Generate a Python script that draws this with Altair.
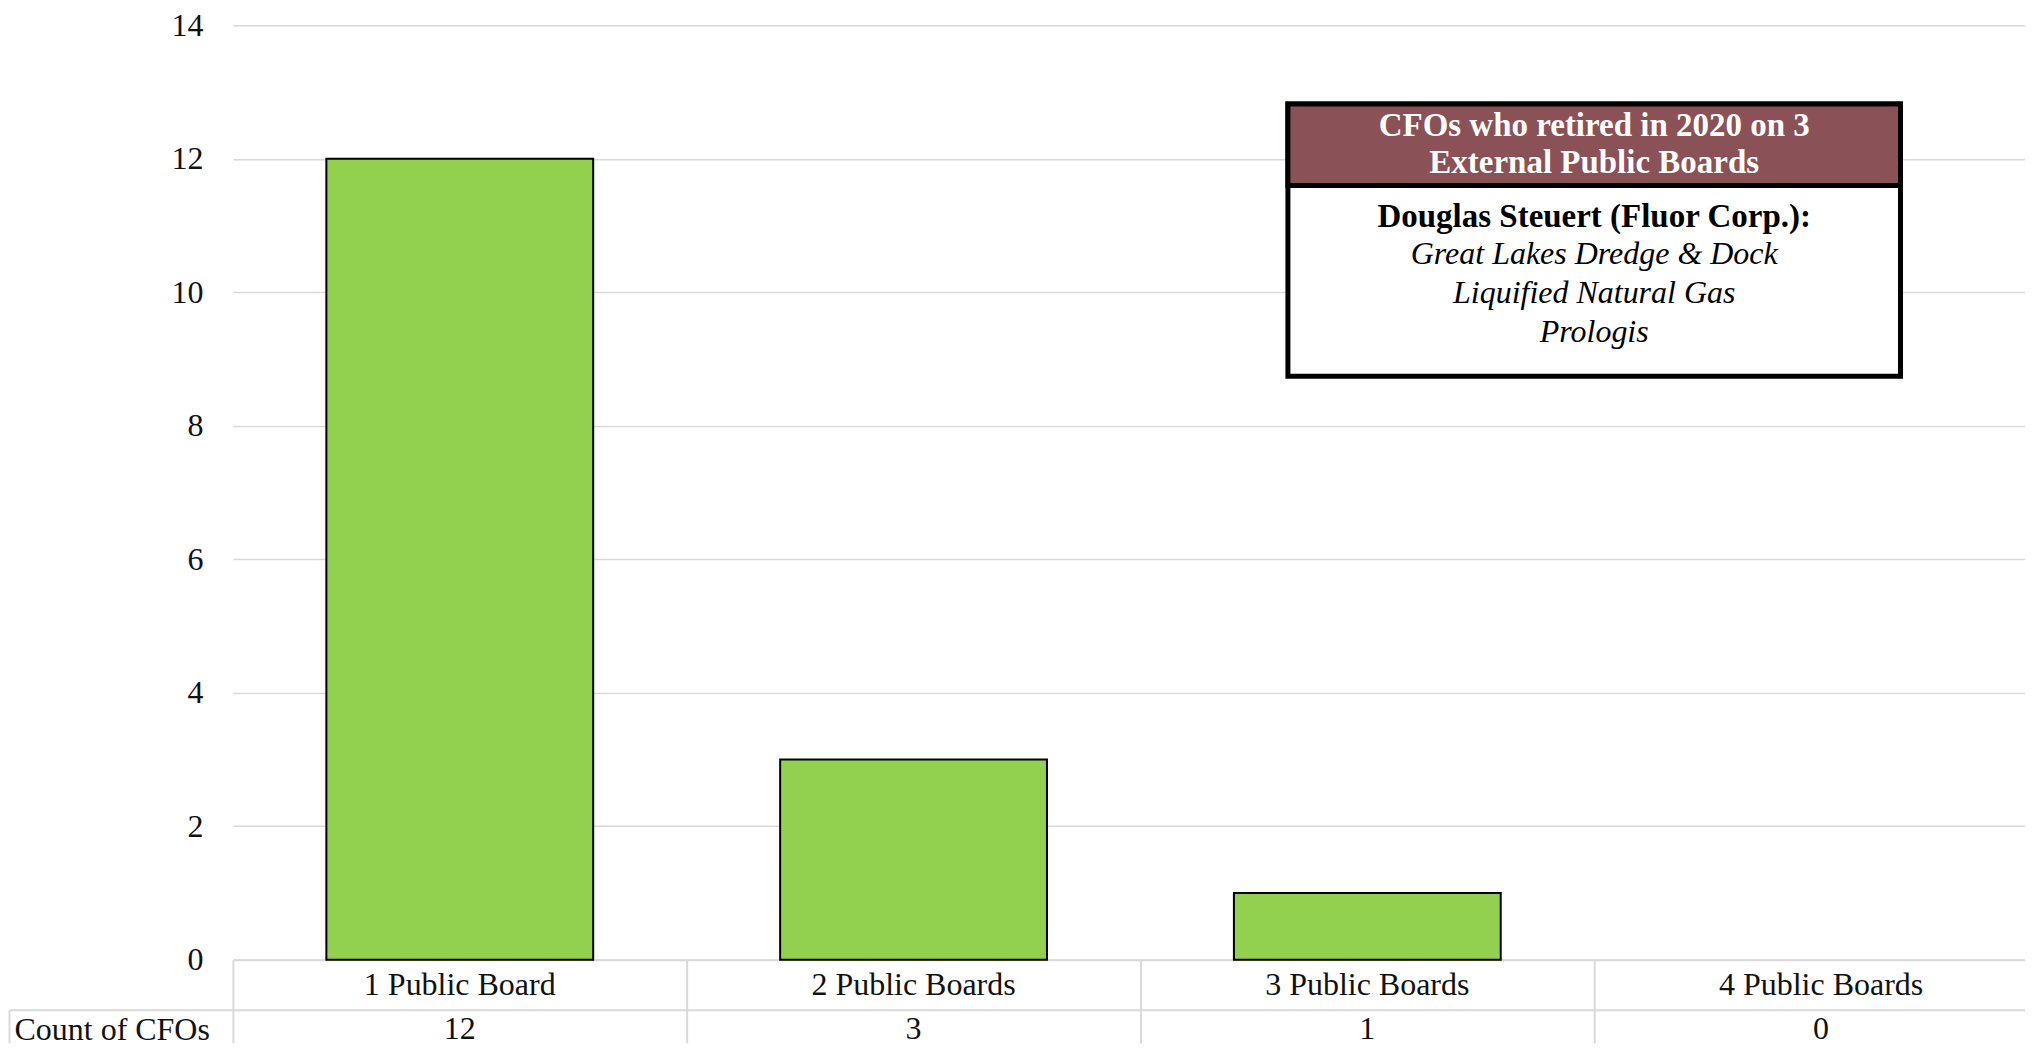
import altair as alt
import pandas as pd

# ---- data ----
categories = ["1 Public Board", "2 Public Boards", "3 Public Boards", "4 Public Boards"]
counts = [12, 3, 1, 0]
y_ticks = [0, 2, 4, 6, 8, 10, 12, 14]
row_label = "Count of CFOs"

box_header = ["CFOs who retired in 2020 on 3", "External Public Boards"]
box_name = ["Douglas Steuert (Fluor Corp.):"]
box_boards = ["Great Lakes Dredge & Dock", "Liquified Natural Gas", "Prologis"]

# ---- annotation placement (x in column units, y in data units) ----
box_x = [2.325, 3.675]
box_y = [8.74, 12.82]
header_split = 11.60
text_center_x = 3.0
header_line_y = [12.49, 11.93]
body_line_y = [11.13, 10.57, 9.99, 9.40]

FONT = "Liberation Serif"
GRID = "#d9d9d9"
TXT = "#111111"
W = 1816
H = 935

df = pd.DataFrame({"cat": categories, "count": counts})
df["rowlab"] = row_label
df["r1"] = "cats"

yscale = alt.Scale(domain=[0, 14], nice=False, zero=True)
ann_x = lambda f: alt.X(f, scale=alt.Scale(domain=[0, 4], nice=False, zero=False), axis=None)

bars = alt.Chart(df).transform_filter("datum.count > 0").mark_bar(
    color="#92D050", stroke="black", strokeWidth=2
).encode(
    x=alt.X("cat:N", sort=categories,
            scale=alt.Scale(domain=categories, paddingInner=0.412, paddingOuter=0.206),
            axis=alt.Axis(labels=False, ticks=False, domain=True, domainColor=GRID,
                          domainWidth=2, grid=False, title=None)),
    y=alt.Y("count:Q", scale=yscale,
            axis=alt.Axis(values=y_ticks, format="d", title=None, labelFont=FONT,
                          labelFontSize=32, labelColor=TXT, labelPadding=30, ticks=False,
                          domain=False, gridColor=GRID, gridWidth=1.5)),
)

box_df = pd.DataFrame({"x1": [box_x[0]], "x2": [box_x[1]],
                       "y1": [box_y[0]], "y2": [box_y[1]], "ys": [header_split]})

box_body = alt.Chart(box_df).mark_rect(fill="white", stroke="black", strokeWidth=5).encode(
    x=ann_x("x1:Q"), x2="x2:Q",
    y=alt.Y("y1:Q", scale=yscale), y2="y2:Q",
)
box_head = alt.Chart(box_df).mark_rect(fill="#8A5157", stroke="black", strokeWidth=5).encode(
    x=ann_x("x1:Q"), x2="x2:Q",
    y=alt.Y("ys:Q", scale=yscale), y2="y2:Q",
)

hdr_df = pd.DataFrame({"t": box_header, "y": header_line_y, "x": text_center_x})
name_df = pd.DataFrame({"t": box_name, "y": body_line_y[:1], "x": text_center_x})
brd_df = pd.DataFrame({"t": box_boards, "y": body_line_y[1:], "x": text_center_x})

hdr_text = alt.Chart(hdr_df).mark_text(font=FONT, fontSize=33, fontWeight="bold",
                                       color="white", baseline="middle").encode(
    x=ann_x("x:Q"), y=alt.Y("y:Q", scale=yscale), text="t:N")
name_text = alt.Chart(name_df).mark_text(font=FONT, fontSize=33, fontWeight="bold",
                                         color="black", baseline="middle").encode(
    x=ann_x("x:Q"), y=alt.Y("y:Q", scale=yscale), text="t:N")
brd_text = alt.Chart(brd_df).mark_text(font=FONT, fontSize=32, fontStyle="italic",
                                       color="black", baseline="middle").encode(
    x=ann_x("x:Q"), y=alt.Y("y:Q", scale=yscale), text="t:N")

top = alt.layer(bars, box_body, box_head, hdr_text, name_text, brd_text).resolve_scale(
    x="independent").properties(width=W, height=H)

row1 = alt.Chart(df).mark_text(font=FONT, fontSize=32, color=TXT, baseline="middle").encode(
    x=alt.X("cat:N", sort=categories,
            scale=alt.Scale(domain=categories, paddingInner=0, paddingOuter=0),
            axis=alt.Axis(labels=False, ticks=False, domain=True, domainColor=GRID,
                          domainWidth=2, grid=True, gridColor=GRID, gridWidth=2,
                          tickBand="extent", title=None)),
    y=alt.Y("r1:N", scale=alt.Scale(paddingInner=0, paddingOuter=0),
            axis=alt.Axis(labels=False, domain=False, grid=False, ticks=True,
                          tickSize=224, tickColor=GRID, tickWidth=2, tickOffset=25,
                          title=None)),
    text="cat:N",
).properties(width=W, height=50)

row2 = alt.Chart(df).mark_text(font=FONT, fontSize=32, color=TXT, baseline="middle", dy=3).encode(
    x=alt.X("cat:N", sort=categories,
            scale=alt.Scale(domain=categories, paddingInner=0, paddingOuter=0),
            axis=alt.Axis(labels=False, ticks=False, domain=False, grid=True,
                          gridColor=GRID, gridWidth=2, tickBand="extent", title=None)),
    y=alt.Y("rowlab:N", scale=alt.Scale(paddingInner=0, paddingOuter=0),
            axis=alt.Axis(orient="left", offset=224, domain=True, domainColor=GRID,
                          domainWidth=2, ticks=False, labelAlign="left", labelPadding=-5,
                          labelBaseline="middle", labelOffset=3, labelLimit=0,
                          labelFont=FONT, labelFontSize=32, labelColor=TXT, grid=False,
                          title=None)),
    text="count:Q",
).properties(width=W, height=33)

chart = alt.vconcat(top, row1, row2, spacing=0, bounds="flush").properties(
    padding={"left": 0, "top": 1, "right": -23, "bottom": 0},
    background="white",
).configure_view(stroke=None)

chart.save("out.html", embed_options={"renderer": "svg", "actions": False})
